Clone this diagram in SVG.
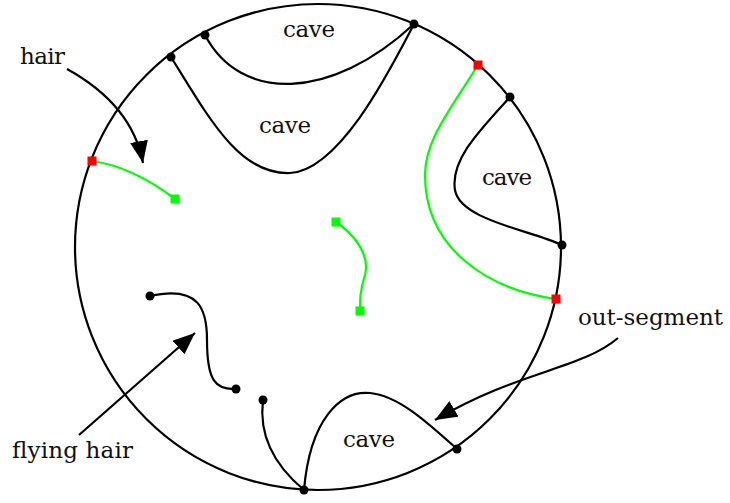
<svg xmlns="http://www.w3.org/2000/svg" width="730" height="503" viewBox="0 0 730 503">
<style>
.k{fill:none;stroke:#000;stroke-width:2.2}
.g{fill:none;stroke:#00ff00;stroke-width:2.2}
.d{fill:#000}
.r{fill:#ff0000}
.q{fill:#00ff00}
.t{font-family:'DejaVu Serif',serif;font-size:23px;fill:#111}
</style>
<defs>
<marker id="ah" markerUnits="userSpaceOnUse" markerWidth="24" markerHeight="18" refX="22" refY="9" orient="auto">
<path d="M0,0 L22,9 L0,18 Z" fill="#000"/>
</marker>
</defs>
<g id="disk"><circle cx="318" cy="247" r="243" class="k"/></g>
<g id="connectors">
<path class="k" d="M205,35 C240,102 330,102 414,24"/>
<path class="k" d="M171,57 C210,120 240,175 290,173 C340,170 390,70 414,24"/>
<path class="k" d="M510,97 C480,130 450,160 455,190 C460,220 530,230 562,245"/>
<path class="k" d="M304,490 C310,420 340,390 370,393 C400,396 430,425 457,449"/>
<path class="g" d="M92,161 C120,165 150,180 175,199"/>
<path class="g" d="M478,65 C450,110 425,140 425,175 C425,250 490,290 556,299"/>
<path class="g" d="M336,222 C355,235 370,255 365,275 C360,290 360,300 360,311"/>
<path class="k" d="M150,296 C200,285 207,310 207,340 C207,380 215,390 236,389"/>
<path class="k" d="M263,400 C258,440 280,470 304,490"/>
<path class="k" marker-end="url(#ah)" d="M67,69 C105,90 135,120 143,163"/>
<path class="k" marker-end="url(#ah)" d="M79,435 L195,333"/>
<path class="k" marker-end="url(#ah)" d="M618,338 C580,370 520,370 435,420"/>
</g>
<g id="points">
<circle class="d" cx="205" cy="35" r="4.5"/>
<circle class="d" cx="171" cy="57" r="4.5"/>
<circle class="d" cx="414" cy="24" r="4.5"/>
<circle class="d" cx="510" cy="97" r="4.5"/>
<circle class="d" cx="562" cy="245" r="4.5"/>
<circle class="d" cx="457" cy="449" r="4.5"/>
<circle class="d" cx="304" cy="490" r="4.5"/>
<circle class="d" cx="150" cy="296" r="4.5"/>
<circle class="d" cx="236" cy="389" r="4.5"/>
<circle class="d" cx="263" cy="400" r="4.5"/>
<rect class="r" x="87.5" y="156.5" width="9" height="9"/>
<rect class="r" x="473.5" y="60.5" width="9" height="9"/>
<rect class="r" x="551.5" y="294.5" width="9" height="9"/>
<rect class="q" x="170.5" y="194.5" width="9" height="9"/>
<rect class="q" x="331.5" y="217.5" width="9" height="9"/>
<rect class="q" x="355.5" y="306.5" width="9" height="9"/>
</g>
<g id="labels">
<text class="t" x="309" y="37" text-anchor="middle" textLength="52">cave</text>
<text class="t" x="285" y="133" text-anchor="middle" textLength="52">cave</text>
<text class="t" x="507" y="185" text-anchor="middle" textLength="50">cave</text>
<text class="t" x="369" y="447" text-anchor="middle" textLength="52">cave</text>
<text class="t" x="20" y="64" textLength="45">hair</text>
<text class="t" x="12" y="458" textLength="121">flying hair</text>
<text class="t" x="578" y="325" textLength="145">out-segment</text>
</g>
</svg>
